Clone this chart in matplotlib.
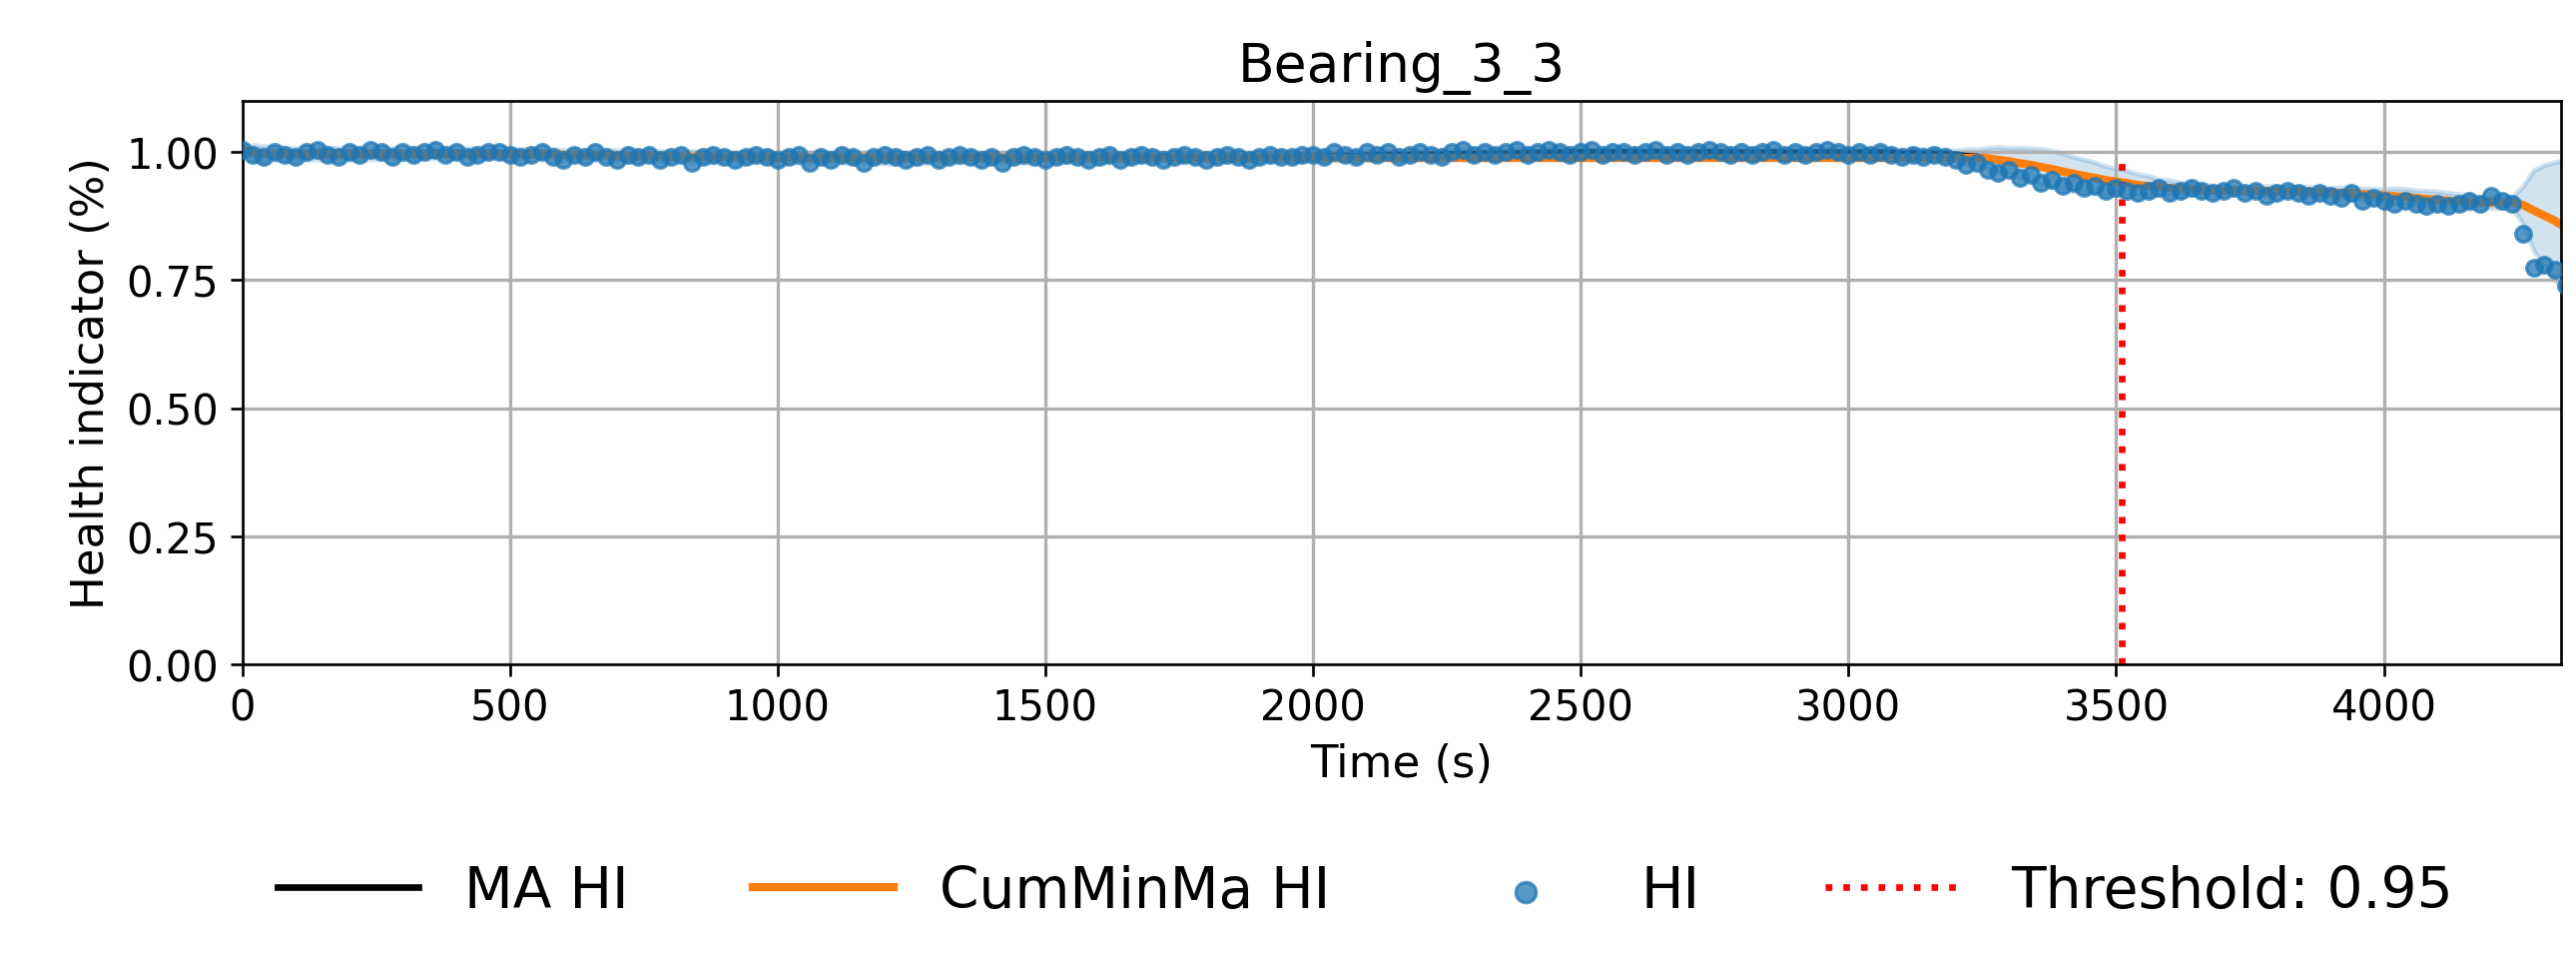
import numpy as np
import pandas as pd
import matplotlib
matplotlib.use("Agg")
import matplotlib.pyplot as plt

step = 20
hi_values = [
 # 0-1000
 1.005,0.995,0.99,1.00,0.995,0.99,1.00,1.005,0.995,0.99,
 1.00,0.995,1.005,1.00,0.99,1.00,0.995,1.00,1.005,0.995,
 1.00,0.99,0.995,1.00,1.00,0.995,0.99,0.995,1.00,0.99,
 0.985,0.995,0.99,1.00,0.99,0.985,0.995,0.99,0.995,0.985,
 0.99,0.995,0.98,0.99,0.995,0.99,0.985,0.99,0.995,0.99,
 # 1000-2000
 0.985,0.99,0.995,0.98,0.99,0.985,0.995,0.99,0.98,0.99,
 0.995,0.99,0.985,0.99,0.995,0.985,0.99,0.995,0.99,0.985,
 0.99,0.98,0.99,0.995,0.99,0.985,0.99,0.995,0.99,0.985,
 0.99,0.995,0.985,0.99,0.995,0.99,0.985,0.99,0.995,0.99,
 0.985,0.99,0.995,0.99,0.985,0.99,0.995,0.99,0.99,0.995,
 # 2000-3000
 0.995,0.99,1.00,0.995,0.99,1.00,0.995,1.00,0.99,0.995,
 1.00,0.995,0.99,1.00,1.005,0.995,1.00,0.995,1.00,1.005,
 0.995,1.00,1.005,1.00,0.995,1.00,1.005,0.995,1.00,1.00,
 0.995,1.00,1.005,0.995,1.00,0.995,1.00,1.005,1.00,0.995,
 1.00,0.995,1.00,1.005,0.995,1.00,0.995,1.00,1.005,1.00,
 # 3000-3500
 0.995,1.00,0.995,1.00,0.995,0.99,0.995,0.99,0.995,0.99,
 0.985,0.975,0.98,0.965,0.96,0.965,0.95,0.955,0.94,0.945,
 0.935,0.94,0.93,0.935,0.925,
 # 3500-4000
 0.93,0.925,0.92,0.925,0.93,0.92,0.925,0.93,0.925,0.92,
 0.925,0.93,0.92,0.925,0.915,0.92,0.925,0.92,0.915,0.92,
 0.915,0.91,0.92,0.905,0.91,
 # 4000-4320
 0.905,0.90,0.905,0.90,0.895,0.90,0.895,0.90,0.905,0.90,
 0.915,0.905,0.90,0.84,0.775,0.78,0.77,0.74,
]
time = np.arange(len(hi_values)) * step
threshold = 0.95
threshold_time = 3510

hi = pd.Series(hi_values, index=time)
ma = hi.rolling(12, min_periods=1).mean()
sd = hi.rolling(12, min_periods=1).std().fillna(0)
cummin = ma.cummin()

fig = plt.figure(figsize=(10.75, 4.008), dpi=240)
ax = fig.add_axes([0.094, 0.308, 0.9, 0.586])
ax.fill_between(time, ma - 2 * sd, ma + 2 * sd, color="#1f77b4", alpha=0.2, lw=1.5, edgecolor="#1f77b4")
ax.plot(time, ma, color="black", lw=2, label="MA HI")
ax.plot(time, cummin, color="#ff7f0e", lw=2.5, label="CumMinMa HI")
ax.scatter(time, hi_values, s=22, color="#1f77b4", alpha=0.75, label="HI", zorder=3)
ax.vlines(threshold_time, 0, 0.98, colors="red", linestyles=":", lw=2, label=f"Threshold: {threshold}")
ax.set_xlim(0, 4330)
ax.set_ylim(0, 1.1)
ax.set_yticks([0, 0.25, 0.5, 0.75, 1.0])
ax.grid(True, color="#b0b0b0", lw=1)
ax.tick_params(labelsize=12.5)
ax.set_xlabel("Time (s)", fontsize=13.5)
ax.set_ylabel("Health indicator (%)", fontsize=13.5)
ax.set_title("Bearing_3_3", fontsize=16)
fig.legend(loc="lower center", bbox_to_anchor=(0.53, -0.01), ncol=4, frameon=False, fontsize=17,
           handlelength=2.5, columnspacing=2.2, markerscale=1.3)
fig.savefig("out.png", dpi=240)
